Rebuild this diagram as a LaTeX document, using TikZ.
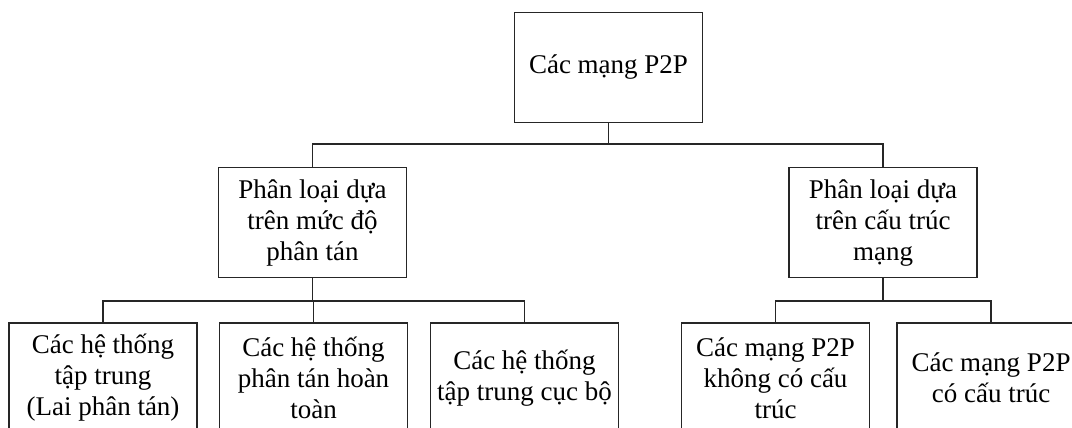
\documentclass[tikz,border=0pt]{standalone}
\usepackage{fontspec}
\setmainfont{Liberation Serif}
\begin{document}
\begin{tikzpicture}[x=1pt,y=-1pt,
  box/.style={draw=black!85, line width=1.2pt, fill=white, minimum width=188pt, minimum height=110pt,
    inner sep=0pt, align=center, font=\fontsize{27pt}{31pt}\selectfont},
  conn/.style={draw=black!85, line width=1.2pt}]
\fill[white] (0,0) rectangle (1072,428);
\useasboundingbox (0,0) rectangle (1072,428);
\clip (0,0) rectangle (1072,428);
\node[box] (root) at (608.5,67.5) {Các mạng P2P};
\node[box] (lm) at (312.5,222.7) {Phân loại dựa\\trên mức độ\\phân tán};
\node[box] (rm) at (883,222.7) {Phân loại dựa\\trên cấu trúc\\mạng};
\node[box] (b1) at (103,378) {Các hệ thống\\tập trung\\(Lai phân tán)};
\node[box] (b2) at (313.5,378) {Các hệ thống\\phân tán hoàn\\toàn};
\node[box] (b3) at (524.5,378) {Các hệ thống\\tập trung cục bộ};
\node[box] (b4) at (775.5,378) {Các mạng P2P\\không có cấu\\trúc};
\node[box] (b5) at (991,378) {Các mạng P2P\\có cấu trúc};
\coordinate (jt) at (608.5,144);
\coordinate (jl) at (312.5,301);
\coordinate (jr) at (883,301);
\path[conn] (root.south) -- (jt);
\path[conn] (lm.north) |- (jt) -| (rm.north);
\path[conn] (lm.south) -- (jl);
\path[conn] (b1.north) |- (jl) -| (b3.north);
\path[conn] (b2.north) -- (b2.north |- jl);
\path[conn] (rm.south) -- (jr);
\path[conn] (b4.north) |- (jr) -| (b5.north);
\end{tikzpicture}
\end{document}
